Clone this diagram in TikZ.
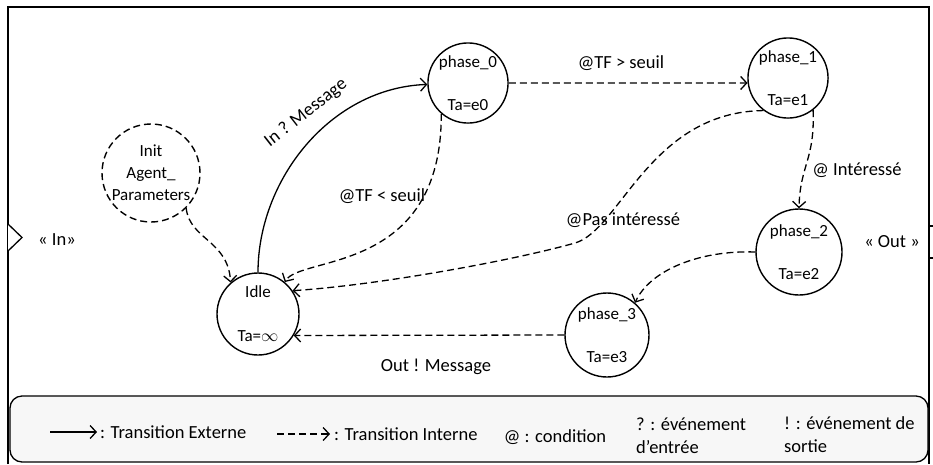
\documentclass[tikz,border=0pt]{standalone}
\usepackage{fontspec}
\setmainfont{Carlito}
\usepackage{tikz}
\usetikzlibrary{positioning}
\usetikzlibrary{shapes.geometric, arrows.meta}
\tikzset{
    state/.style={draw, circle, line width=1.4pt, inner sep=0pt, align=center, font=\fontsize{17}{20}\selectfont},
    init/.style={state, dash pattern=on 7pt off 4pt, font=\fontsize{17}{22}\selectfont},
    cond/.style={inner sep=0pt, font=\fontsize{18.5}{23}\selectfont},
    legendbox/.style={draw, rectangle, rounded corners=12pt, line width=1.3pt, fill=gray!6},
    arrow/.style={line width=1.3pt, ->, >={Straight Barb[length=6pt, width=13pt]}},
    dasharrow/.style={arrow, dash pattern=on 7pt off 4pt}
}
\begin{document}
\begin{tikzpicture}[x=1pt, y=-1pt]
\useasboundingbox (0,0) rectangle (933,464);

\draw [line width=1.6pt] (8,464) -- (8,7) -- (929,7) -- (929,464);
\draw [line width=1.3pt, fill=white] (8,224) -- (22,237.5) -- (8,251);
\draw [line width=1.3pt] (929,226) rectangle (940,258);

\node [init, minimum size=98pt]  (init)  at (151,173) {Init\\Agent\_\\Parameters};
\node [state, minimum size=82pt] (idle)  at (258,314) {Idle\\[24pt]Ta=$\infty$};
\node [state, minimum size=77pt] (p0)    at (468,83)  {phase\_0\\[23pt]Ta=e0};
\node [state, minimum size=78pt] (p1)    at (788,78)  {phase\_1\\[23pt]Ta=e1};
\node [state, minimum size=86pt] (p2)    at (799,252) {phase\_2\\[23pt]Ta=e2};
\node [state, minimum size=84pt] (p3)    at (607,335) {phase\_3\\[23pt]Ta=e3};

\node [cond]            (portin)  at (57,240)  {« In»};
\node [cond]            (portout) at (892,242) {« Out »};
\node [cond, rotate=38] (inmsg)   at (306,113) {In ? Message};
\node [cond]            (tfinf)   at (382,196) {@TF < seuil};
\node [cond]            (tfsup)   at (621,63)  {@TF > seuil};
\node [cond]            (inter)   at (857,170) {@ Intéressé};
\node [cond]            (pasint)  at (623,220) {@Pas intéressé};
\node [cond]            (outmsg)  at (436,367) {Out ! Message};

\draw [arrow] (idle.north) .. controls (258,180) and (330,88) .. (p0.182);
\draw [dasharrow] (p0.-131) .. controls (442,275) and (300,255) .. (idle.50);
\draw [dasharrow] (init.-45) .. controls (190,240) and (228,240) .. (idle.131);
\draw [dasharrow] (p0.east) -- (p1.187);
\draw [dasharrow] (p1.-127) .. controls (650,112) and (620,230) .. (575,243) .. controls (515,260) and (380,285) .. (idle.34);
\draw [dasharrow] (p1.-52) .. controls (815,160) and (800,165) .. (p2.north);
\draw [dasharrow] (p2.west) .. controls (700,250) and (650,270) .. (p3.49);
\draw [dasharrow] (p3.west) -- (idle.-31);

\node [legendbox, minimum width=918pt, minimum height=66pt] (legend) at (469,429) {};
\coordinate (ea) at (50,432);
\coordinate (eb) at (97,432);
\draw [arrow] (ea) -- (eb);
\node [cond, right=3pt of eb]   (ext)   {: Transition Externe};
\coordinate (ia) at (277,434);
\coordinate (ib) at (330,434);
\draw [dasharrow] (ia) -- (ib);
\node [cond, right=4pt of ib]   (int)   {: Transition Interne};
\node [cond]                    (condi) at (555,437) {@ : condition};
\node [cond, align=left, anchor=west] (evin)  at (636,436) {? : événement\\d’entrée};
\node [cond, align=left, anchor=west] (evout) at (784,435) {! : événement de\\sortie};

\end{tikzpicture}
\end{document}
